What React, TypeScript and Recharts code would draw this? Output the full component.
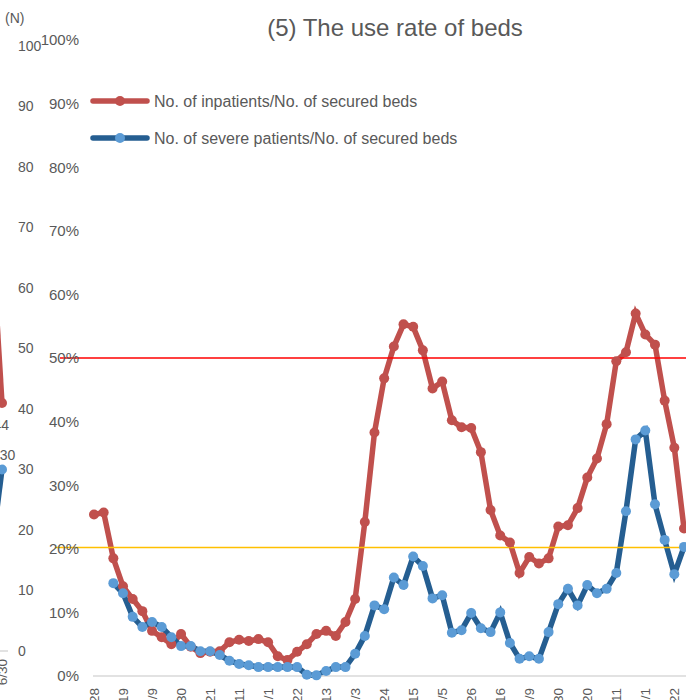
import React from 'react';
import { LineChart, Line, XAxis, YAxis, ReferenceLine, Legend, LabelList } from 'recharts';

// weekly dates (only every 3rd is labelled on the axis)
const dates = [
  '7/28', '8/4', '8/12', '8/19', '8/26', '9/2', '9/9', '9/16', '9/23', '9/30',
  '10/7', '10/14', '10/21', '10/28', '11/4', '11/11', '11/18', '11/25', '12/1', '12/8',
  '12/15', '12/22', '12/29', '1/5', '1/13', '1/19', '1/26', '2/3', '2/9', '2/16',
  '2/24', '3/2', '3/9', '3/15', '3/22', '3/29', '4/5', '4/12', '4/19', '4/26',
  '5/3', '5/10', '5/16', '5/24', '6/1', '6/9', '6/16', '6/23', '6/30', '7/7',
  '7/13', '7/20', '7/27', '8/3', '8/11', '8/18', '8/25', '9/1', '9/8', '9/15',
  '9/22', '9/29',
];

// No. of inpatients / No. of secured beds (%)
const inpatientRate = [
  25.4, 25.7, 18.5, 14.1, 12.1, 10.2, 7.1, 6.1, 5.0, 6.6,
  4.6, 3.6, 3.8, 3.9, 5.3, 5.7, 5.5, 5.8, 5.3, 3.1,
  2.5, 3.8, 5.0, 6.6, 7.1, 6.3, 8.5, 12.1, 24.2, 38.3,
  46.8, 51.8, 55.3, 54.9, 51.2, 45.2, 46.3, 40.2, 39.1, 39.0,
  35.2, 26.1, 22.1, 21.0, 16.2, 18.7, 17.7, 18.5, 23.5, 23.7,
  26.4, 31.2, 34.2, 39.6, 49.5, 50.9, 57.0, 53.7, 52.1, 43.3,
  35.9, 23.2,
];

// No. of severe patients / No. of secured beds (%)
const severeRate = [
  null, null, 14.6, 13.0, 9.3, 7.7, 8.5, 7.7, 6.1, 4.7,
  4.7, 3.9, 3.9, 3.3, 2.4, 1.9, 1.7, 1.4, 1.4, 1.4,
  1.4, 1.4, 0.2, 0.1, 0.8, 1.4, 1.4, 3.5, 6.3, 11.1,
  10.5, 15.5, 14.3, 18.8, 17.3, 12.2, 12.7, 6.8, 7.2, 9.9,
  7.5, 6.9, 10.0, 5.2, 2.7, 3.1, 2.7, 6.9, 11.3, 13.7,
  11.1, 14.3, 13.0, 13.7, 16.2, 25.9, 37.2, 38.6, 27.0, 21.4,
  16.0, 20.3,
];

const pctTicks = [0, 10, 20, 30, 40, 50, 60, 70, 80, 90, 100];

// tail of the neighbouring chart (counts, N)
const prevDates = ['6/23', '6/30'];
const prevInpatients = [68, 41];
const prevSevere = [17, 30];
const prevInpatientLabels = ['', '44'];
const prevSevereLabels = ['', '30'];
const nTicks = [0, 10, 20, 30, 40, 50, 60, 70, 80, 90, 100];

const RED = '#C0504D';
const BLUE = '#255E91';
const BLUE_DOT = '#5B9BD5';
const GRAY = '#595959';
const FONT = '"Liberation Sans", Arial, sans-serif';

const mainData = dates.map((d, i) => ({
  date: d,
  inpatients: inpatientRate[i],
  severe: severeRate[i],
}));

const prevData = prevDates.map((d, i) => ({
  date: d,
  inpatients: prevInpatients[i],
  severe: prevSevere[i],
  inpLabel: prevInpatientLabels[i],
  sevLabel: prevSevereLabels[i],
}));

const markerColor: Record<string, string> = {
  inpatients: RED,
  severe: BLUE_DOT,
};

const RotatedTick = (props: any) => {
  const { x, y, payload } = props;
  return (
    <text
      x={x}
      y={y}
      transform={`rotate(-90, ${x}, ${y})`}
      textAnchor="end"
      dy="0.35em"
      fill={GRAY}
      fontSize={13.5}
      fontFamily={FONT}
    >
      {payload.value}
    </text>
  );
};

const renderLegend = (props: any) => {
  const { payload } = props;
  return (
    <svg width={420} height={60} style={{ display: 'block' }}>
      {(payload || []).map((entry: any, i: number) => {
        const y = 13 + i * 37;
        return (
          <g key={entry.value}>
            <line x1={3} x2={57} y1={y} y2={y} stroke={entry.color} strokeWidth={5.5} strokeLinecap="round" />
            <circle cx={30} cy={y} r={5} fill={markerColor[entry.dataKey] || entry.color} />
            <text x={64} y={y} dy="0.35em" fontSize={16} fill={GRAY} fontFamily={FONT}>
              {entry.value}
            </text>
          </g>
        );
      })}
    </svg>
  );
};

const refShape = (color: string, extend: number) => (p: any) => (
  <line x1={p.x1 - extend} y1={p.y1} x2={p.x2} y2={p.y2} stroke={color} strokeWidth={1.5} />
);

const prevLabel = (dx: number, dy: number, anchor: string) => (p: any) => {
  if (!p.value) return null;
  return (
    <text x={p.x + dx} y={p.y + dy} dy="0.35em" textAnchor={anchor} fontSize={14} fill={GRAY} fontFamily={FONT}>
      {p.value}
    </text>
  );
};

export default function App() {
  return (
    <div
      style={{
        position: 'absolute',
        left: 0,
        top: 0,
        width: 686,
        height: 700,
        overflow: 'hidden',
        background: '#fff',
        fontFamily: FONT,
      }}
    >
      {/* neighbouring chart, cut off at the left edge */}
      <div style={{ position: 'absolute', left: -8, top: 0 }}>
        <LineChart width={56} height={711} data={prevData} margin={{ top: 46, right: 0, bottom: 0, left: 0 }}>
          <XAxis
            dataKey="date"
            height={60}
            interval={0}
            padding={{ left: 0, right: 6 }}
            axisLine={{ stroke: '#D9D9D9', strokeWidth: 1.5 }}
            tickLine={false}
            tickSize={0}
            tickMargin={8}
            tick={<RotatedTick />}
          />
          <YAxis
            orientation="right"
            width={40}
            domain={[0, 100]}
            ticks={nTicks}
            axisLine={false}
            tickLine={false}
            tickSize={0}
            tickMargin={10}
            tick={{ fill: GRAY, fontSize: 14 }}
          />
          <Line dataKey="inpatients" stroke={RED} strokeWidth={5.5} dot={{ r: 5, fill: RED, stroke: 'none' }} isAnimationActive={false}>
            <LabelList dataKey="inpLabel" content={prevLabel(7, 22, 'end')} />
          </Line>
          <Line dataKey="severe" stroke={BLUE} strokeWidth={5.5} dot={{ r: 5, fill: BLUE_DOT, stroke: 'none' }} isAnimationActive={false}>
            <LabelList dataKey="sevLabel" content={prevLabel(5.5, -14, 'middle')} />
          </Line>
        </LineChart>
      </div>

      <div style={{ position: 'absolute', left: 5, top: 10, fontSize: 14, lineHeight: '16px', color: GRAY }}>(N)</div>

      <div
        style={{
          position: 'absolute',
          left: 0,
          top: 16,
          width: 790,
          textAlign: 'center',
          fontSize: 24,
          lineHeight: '24px',
          color: GRAY,
        }}
      >
        (5) The use rate of beds
      </div>

      <div style={{ position: 'absolute', left: 0, top: 0 }}>
        <LineChart width={704} height={760} data={mainData} margin={{ top: 40, right: 0, bottom: 0, left: 0 }}>
          <XAxis
            dataKey="date"
            height={84}
            interval={2}
            padding={{ left: 1, right: 20 }}
            axisLine={{ stroke: '#D9D9D9', strokeWidth: 1.5 }}
            tickLine={false}
            tickSize={0}
            tickMargin={12}
            tick={<RotatedTick />}
          />
          <YAxis
            width={93}
            domain={[0, 100]}
            ticks={pctTicks}
            tickFormatter={(v: number) => `${v}%`}
            axisLine={false}
            tickLine={false}
            tickSize={0}
            tickMargin={14}
            tick={{ fill: GRAY, fontSize: 15 }}
          />
          <Legend
            layout="horizontal"
            verticalAlign="middle"
            align="center"
            content={renderLegend}
            wrapperStyle={{ left: 90, top: 88, width: 420 }}
          />
          <Line
            dataKey="inpatients"
            name="No. of inpatients/No. of secured beds"
            stroke={RED}
            strokeWidth={5.5}
            dot={{ r: 5, fill: RED, stroke: 'none' }}
            isAnimationActive={false}
          />
          <Line
            dataKey="severe"
            name="No. of severe patients/No. of secured beds"
            stroke={BLUE}
            strokeWidth={5.5}
            dot={{ r: 5, fill: BLUE_DOT, stroke: 'none' }}
            isAnimationActive={false}
          />
          <ReferenceLine y={50} shape={refShape('#FF0000', 33)} />
          <ReferenceLine y={20.2} shape={refShape('#FFC000', 38)} />
        </LineChart>
      </div>
    </div>
  );
}
